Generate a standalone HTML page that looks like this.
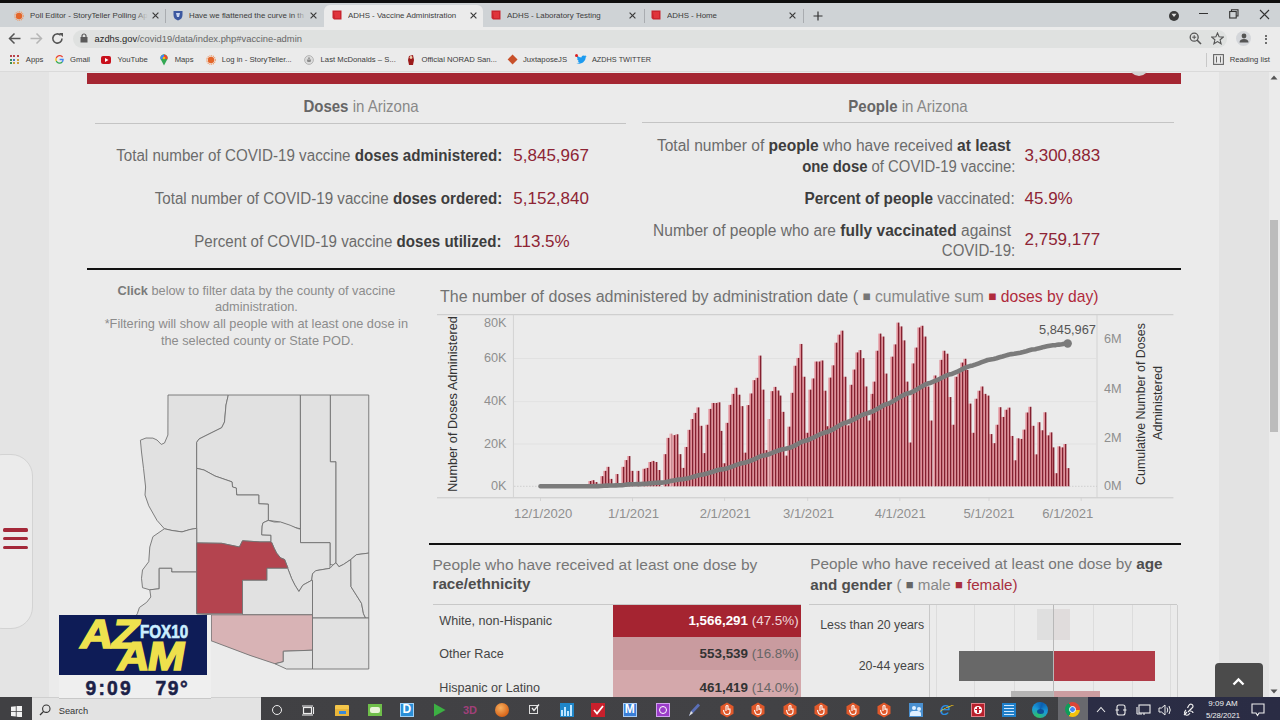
<!DOCTYPE html>
<html><head><meta charset="utf-8"><title>ADHS - Vaccine Administration</title><style>
*{margin:0;padding:0;box-sizing:border-box}
html,body{width:1280px;height:720px;overflow:hidden;background:#ebebeb;font-family:"Liberation Sans",sans-serif}
.a{position:absolute}
.t{position:absolute;white-space:nowrap;font-family:"Liberation Sans",sans-serif}
.r{text-align:right}
.c{text-align:center}
b{font-weight:bold}
</style></head>
<body>
<div class="a" style="left:0;top:72px;width:49px;height:626px;background:#e4e4e4"></div><div class="a" style="left:1219px;top:72px;width:50px;height:626px;background:#e3e3e3"></div><div class="a" style="left:1269px;top:72px;width:11px;height:626px;background:#ebebeb"></div><div class="a" style="left:1270px;top:220px;width:8.3px;height:212px;background:#bcbcbc"></div><svg class="a" style="left:1270px;top:75px" width="8" height="5"><path d="M0.5 4.5 L4 0.5 L7.5 4.5Z" fill="#555"/></svg><svg class="a" style="left:1270px;top:689px" width="8" height="5"><path d="M0.5 0.5 L4 4.5 L7.5 0.5Z" fill="#555"/></svg><div class="a" style="left:87px;top:72.5px;width:1094.3px;height:11.3px;background:#a52632"></div><div class="a" style="left:1128.5px;top:56px;width:20px;height:20px;border-radius:50%;background:#d4d4d4"></div><div class="a" style="left:-20px;top:453.5px;width:53px;height:175.5px;border:1.5px solid #d3d3d3;border-radius:22px;background:#ebebeb"></div><div class="a" style="left:3.3px;top:527.8000000000001px;width:24.5px;height:3.8px;border-radius:1.5px;background:#a42839"></div><div class="a" style="left:3.3px;top:536.7px;width:24.5px;height:3.8px;border-radius:1.5px;background:#a42839"></div><div class="a" style="left:3.3px;top:545.6px;width:24.5px;height:3.8px;border-radius:1.5px;background:#a42839"></div><div class="t" style="left:211.0px;width:300px;text-align:center;top:96.3px;font-size:16.5px;line-height:20px;color:#888;transform:scaleX(0.91);transform-origin:50% 50%;"><b style="color:#666">Doses</b> in Arizona</div><div class="t" style="left:758.0px;width:300px;text-align:center;top:96.0px;font-size:16.5px;line-height:20px;color:#888;transform:scaleX(0.91);transform-origin:50% 50%;"><b style="color:#666">People</b> in Arizona</div><div class="a" style="left:95.4px;top:122.5px;width:531px;height:1px;background:#c4c4c4"></div><div class="a" style="left:642px;top:121.6px;width:531.7px;height:1px;background:#c4c4c4"></div><div class="t" style="right:778.2px;text-align:right;top:145.7px;font-size:16px;line-height:19px;color:#6b6b6b;transform:scaleX(0.948);transform-origin:100% 50%;">Total number of COVID-19 vaccine <b style="color:#3d3d3d">doses administered:</b></div><div class="t" style="right:778.2px;text-align:right;top:189.2px;font-size:16px;line-height:19px;color:#6b6b6b;transform:scaleX(0.9463);transform-origin:100% 50%;">Total number of COVID-19 vaccine <b style="color:#3d3d3d">doses ordered:</b></div><div class="t" style="right:778.2px;text-align:right;top:231.8px;font-size:16px;line-height:19px;color:#6b6b6b;transform:scaleX(0.9438);transform-origin:100% 50%;">Percent of COVID-19 vaccine <b style="color:#3d3d3d">doses utilized:</b></div><div class="t" style="left:513.3px;top:145.8px;font-size:17px;line-height:20px;color:#8e2434;">5,845,967</div><div class="t" style="left:513.3px;top:189.3px;font-size:17px;line-height:20px;color:#8e2434;">5,152,840</div><div class="t" style="left:513.3px;top:231.9px;font-size:17px;line-height:20px;color:#8e2434;">113.5%</div><div class="t" style="right:268.79999999999995px;text-align:right;top:136.1px;font-size:16px;line-height:19px;color:#6b6b6b;transform:scaleX(0.9727);transform-origin:100% 50%;">Total number of <b style="color:#3d3d3d">people</b> who have received <b style="color:#3d3d3d">at least</b></div><div class="t" style="right:265px;text-align:right;top:157.3px;font-size:16px;line-height:19px;color:#6b6b6b;transform:scaleX(0.9295);transform-origin:100% 50%;"><b style="color:#3d3d3d">one dose</b> of COVID-19 vaccine:</div><div class="t" style="right:265px;text-align:right;top:188.9px;font-size:16px;line-height:19px;color:#6b6b6b;transform:scaleX(0.9567);transform-origin:100% 50%;"><b style="color:#3d3d3d">Percent of people</b> vaccinated:</div><div class="t" style="right:268.79999999999995px;text-align:right;top:220.5px;font-size:16px;line-height:19px;color:#6b6b6b;transform:scaleX(0.97);transform-origin:100% 50%;">Number of people who are <b style="color:#3d3d3d">fully vaccinated</b> against</div><div class="t" style="right:265px;text-align:right;top:240.8px;font-size:16px;line-height:19px;color:#6b6b6b;transform:scaleX(0.9387);transform-origin:100% 50%;">COVID-19:</div><div class="t" style="left:1024.5px;top:145.8px;font-size:17px;line-height:20px;color:#8e2434;">3,300,883</div><div class="t" style="left:1024.5px;top:188.9px;font-size:17px;line-height:20px;color:#8e2434;">45.9%</div><div class="t" style="left:1024.5px;top:230.3px;font-size:17px;line-height:20px;color:#8e2434;">2,759,177</div><div class="a" style="left:87px;top:268px;width:1094px;height:2px;background:#111"></div><div class="a" style="left:429px;top:542.5px;width:752px;height:2px;background:#111"></div><div class="t" style="left:-43.60000000000002px;width:600px;text-align:center;top:282.9px;font-size:12.75px;line-height:15px;color:#8c8c8c;"><b style="color:#7a7a7a">Click</b> below to filter data by the county of vaccine</div><div class="t" style="left:-43.60000000000002px;width:600px;text-align:center;top:299.4px;font-size:12.75px;line-height:15px;color:#8c8c8c;">administration.</div><div class="t" style="left:-43.69999999999999px;width:600px;text-align:center;top:316.4px;font-size:12.75px;line-height:15px;color:#8c8c8c;">*Filtering will show all people with at least one dose in</div><div class="t" style="left:-42.69999999999999px;width:600px;text-align:center;top:333.1px;font-size:12.75px;line-height:15px;color:#8c8c8c;">the selected county or State POD.</div>
<svg class="a" style="left:0;top:0" width="1280" height="720" viewBox="0 0 1280 720"><path d="M168,395 L228.3,395 L226,405 L224.5,422 L221.7,427.7 L209,434 L199,439 L196.7,442.3 L196.7,468.3 L196.7,528.3 L190,529.5 L182,531.9 L172,530.5 L164.4,528.75 L157,520.4 L148.75,505.8 L145,495 L145.6,487 L143.5,468.3 L141.5,452 L140.4,440.2 L146,438 L152.9,438.1 L157,440 L161.25,444.4 L164.5,443 L167.9,435Z" fill="#e1e1e1" stroke="#727272" stroke-width="0.9" stroke-linejoin="round"/><path d="M228.3,395 L300.4,395 L300.4,528.75 L291.7,526.7 L281.25,522.5 L277,521.5 L268.3,520.4 L268.3,504.2 L258.75,503.75 L258.75,495 L236.7,495 L236.3,488 L232.5,487 L232,481.9 L215,476 L204,470 L196.7,468.3 L196.7,442.3 L199,439 L209,434 L221.7,427.7 L224.5,422 L226,405Z" fill="#e1e1e1" stroke="#727272" stroke-width="0.9" stroke-linejoin="round"/><path d="M300.4,395 L330.4,395 L330.4,461.7 L336,461.7 L336,562.7 L333,565 L330,564.5 L330,542.7 L300.5,542.7 L300.5,529.2Z" fill="#e1e1e1" stroke="#727272" stroke-width="0.9" stroke-linejoin="round"/><path d="M330.4,395 L368.75,395 L368.75,553.1 L356.4,554.7 L350.8,559.5 L343.7,564.3 L338.9,566.7 L336,562.7 L336,461.7 L330.4,461.7Z" fill="#e1e1e1" stroke="#727272" stroke-width="0.9" stroke-linejoin="round"/><path d="M196.7,468.3 L204,470 L215,476 L232,481.9 L232.5,487 L236.3,488 L236.7,495 L258.75,495 L258.75,503.75 L268.3,504.2 L268.3,520.4 L263,522.8 L262.2,526 L261.7,534.8 L271,535.2 L271,541.9 L260,541.9 L242.5,540.8 L239.4,547 L221.7,543.3 L196.7,542.9Z" fill="#e1e1e1" stroke="#727272" stroke-width="0.9" stroke-linejoin="round"/><path d="M268.3,520.4 L274.2,522 L280.6,522 L290.1,525.2 L297.3,528.4 L300.5,529.2 L300.5,542.7 L330,542.7 L330,568.3 L315.7,570.7 L312.5,573.9 L311.7,580.3 L302.9,585.1 L298.9,591.5 L294.9,585.1 L291.7,578.7 L287.7,568.3 L287.7,567.5 L284.6,559.5 L280.6,557.9 L276.6,553.1 L274.2,548.3 L271.8,542.7 L271,541.9 L271,535.2 L261.7,534.8 L262.2,526 L263,522.8Z" fill="#e1e1e1" stroke="#727272" stroke-width="0.9" stroke-linejoin="round"/><path d="M164.4,528.75 L172,530.5 L182,531.9 L190,529.5 L196.7,528.3 L196.7,572 L171.7,572 L171.7,568.3 L159.2,568.3 L159.2,588.75 L149.8,589.8 L142.5,587.7 L141.5,578.3 L142.5,570 L148.75,561.7 L149.8,547 L152.9,536.7Z" fill="#e1e1e1" stroke="#727272" stroke-width="0.9" stroke-linejoin="round"/><path d="M159.2,568.3 L171.7,568.3 L171.7,572 L196.7,572 L196.7,613.75 L211.25,614.8 L211.25,640.8 L150,625 L130,625 L137.3,613.75 L139.4,607.5 L146.7,602.3 L150.8,597 L149.8,589.8 L159.2,588.75Z" fill="#e1e1e1" stroke="#727272" stroke-width="0.9" stroke-linejoin="round"/><path d="M196.7,542.9 L221.7,543.3 L239.4,547 L242.5,540.8 L260,541.9 L271,541.9 L271.8,542.7 L274.2,548.3 L276.6,553.1 L280.6,557.9 L284.6,559.5 L287.7,567.5 L287.7,568.3 L267,568.3 L267,580.3 L242.5,580.3 L242.5,613.75 L196.7,613.75Z" fill="#b4444f" stroke="#727272" stroke-width="0.9" stroke-linejoin="round"/><path d="M242.5,580.3 L267,580.3 L267,568.3 L287.7,568.3 L291.7,578.7 L294.9,585.1 L298.9,591.5 L302.9,585.1 L311.7,580.3 L312.5,580.3 L312.5,614.8 L242.5,614.8Z" fill="#e1e1e1" stroke="#727272" stroke-width="0.9" stroke-linejoin="round"/><path d="M312.5,580.3 L311.7,580.3 L312.5,573.9 L315.7,570.7 L330,568.3 L333,565 L336,562.7 L338.9,566.7 L343.7,564.3 L350.8,559.5 L351,586.7 L361.5,603.3 L363.5,613.75 L365.6,618 L312.5,618Z" fill="#e1e1e1" stroke="#727272" stroke-width="0.9" stroke-linejoin="round"/><path d="M350.8,559.5 L356.4,554.7 L368.75,553.1 L368.75,618 L365.6,618 L363.5,613.75 L361.5,603.3 L351,586.7Z" fill="#e1e1e1" stroke="#727272" stroke-width="0.9" stroke-linejoin="round"/><path d="M312.5,618 L368.75,618 L368.75,669 L312.5,669Z" fill="#e1e1e1" stroke="#727272" stroke-width="0.9" stroke-linejoin="round"/><path d="M211.25,614.8 L242.5,614.8 L312.5,614.8 L312.5,650.2 L283.3,651.25 L283.3,661.7 L275,663.75 L250,655.4 L211.25,640.8Z" fill="#d8b3b5" stroke="#727272" stroke-width="0.9" stroke-linejoin="round"/><path d="M283.3,651.25 L312.5,650.2 L312.5,669 L286.5,669 L275,663.75 L283.3,661.7Z" fill="#e1e1e1" stroke="#727272" stroke-width="0.9" stroke-linejoin="round"/></svg>
<div class="t" style="left:440px;top:286.5px;font-size:16px;line-height:19px;color:#727272;">The number of doses administered by administration date ( <span style="color:#777;font-size:13.5px;vertical-align:1px">&#9632;</span><span style="color:#888;font-size:15.7px"> cumulative sum </span><span style="color:#b02a3c;font-size:13.5px;vertical-align:1px">&#9632;</span><span style="color:#b02a3c;font-size:15.7px"> doses by day)</span></div><svg class="a" style="left:0;top:0" width="1280" height="720" viewBox="0 0 1280 720"><path d="M437 314.7 H1173.4 M437 497.8 H1173.4" stroke="#c9c9c9" stroke-width="1"/><path d="M513.4 314.7 V497.8 M1097 314.7 V497.8" stroke="#d3d3d3" stroke-width="1"/><path d="M514 358.5 H1097" stroke="#dedede" stroke-width="0.8"/><path d="M514 401.6 H1097" stroke="#dedede" stroke-width="0.8"/><path d="M514 444.0 H1097" stroke="#dedede" stroke-width="0.8"/><path d="M514 486.3 H1097" stroke="#c8c8c8" stroke-width="0.8" stroke-dasharray="1.5 1.5"/><path d="M540.5 497.8 V501" stroke="#cfcfcf" stroke-width="0.8"/><path d="M632.5 497.8 V501" stroke="#cfcfcf" stroke-width="0.8"/><path d="M724.6 497.8 V501" stroke="#cfcfcf" stroke-width="0.8"/><path d="M807.7 497.8 V501" stroke="#cfcfcf" stroke-width="0.8"/><path d="M899.8 497.8 V501" stroke="#cfcfcf" stroke-width="0.8"/><path d="M989 497.8 V501" stroke="#cfcfcf" stroke-width="0.8"/><path d="M1081.2 497.8 V501" stroke="#cfcfcf" stroke-width="0.8"/><rect x="588.40" y="481.01" width="1.7" height="5.29" fill="#e28f98"/><rect x="591.40" y="480.17" width="1.7" height="6.13" fill="#e28f98"/><rect x="594.40" y="482.07" width="1.7" height="4.23" fill="#e28f98"/><rect x="600.40" y="476.15" width="1.7" height="10.15" fill="#e28f98"/><rect x="603.40" y="470.86" width="1.7" height="15.44" fill="#e28f98"/><rect x="606.40" y="466.84" width="1.7" height="19.46" fill="#e28f98"/><rect x="609.40" y="478.90" width="1.7" height="7.40" fill="#e28f98"/><rect x="615.40" y="474.03" width="1.7" height="12.27" fill="#e28f98"/><rect x="618.40" y="483.13" width="1.7" height="3.17" fill="#e28f98"/><rect x="621.40" y="466.84" width="1.7" height="19.46" fill="#e28f98"/><rect x="624.40" y="460.07" width="1.7" height="26.23" fill="#e28f98"/><rect x="627.40" y="456.06" width="1.7" height="30.24" fill="#e28f98"/><rect x="630.40" y="470.86" width="1.7" height="15.44" fill="#e28f98"/><rect x="636.40" y="470.86" width="1.7" height="15.44" fill="#e28f98"/><rect x="642.40" y="468.75" width="1.7" height="17.55" fill="#e28f98"/><rect x="645.40" y="467.90" width="1.7" height="18.40" fill="#e28f98"/><rect x="648.40" y="461.98" width="1.7" height="24.32" fill="#e28f98"/><rect x="651.40" y="460.92" width="1.7" height="25.38" fill="#e28f98"/><rect x="654.40" y="461.98" width="1.7" height="24.32" fill="#e28f98"/><rect x="657.40" y="470.01" width="1.7" height="16.29" fill="#e28f98"/><rect x="663.40" y="454.15" width="1.7" height="32.15" fill="#e28f98"/><rect x="666.40" y="437.87" width="1.7" height="48.43" fill="#e28f98"/><rect x="669.40" y="433.64" width="1.7" height="52.66" fill="#f0b8bd"/><rect x="672.40" y="435.12" width="1.7" height="51.18" fill="#e28f98"/><rect x="675.40" y="434.27" width="1.7" height="52.03" fill="#e28f98"/><rect x="678.40" y="454.15" width="1.7" height="32.15" fill="#e28f98"/><rect x="681.40" y="467.90" width="1.7" height="18.40" fill="#e28f98"/><rect x="684.40" y="446.96" width="1.7" height="39.34" fill="#e28f98"/><rect x="687.40" y="429.83" width="1.7" height="56.47" fill="#e28f98"/><rect x="690.40" y="419.04" width="1.7" height="67.26" fill="#e28f98"/><rect x="693.40" y="412.91" width="1.7" height="73.39" fill="#e28f98"/><rect x="696.40" y="407.41" width="1.7" height="78.89" fill="#e28f98"/><rect x="699.40" y="425.81" width="1.7" height="60.49" fill="#e28f98"/><rect x="702.40" y="453.09" width="1.7" height="33.21" fill="#e28f98"/><rect x="705.40" y="424.75" width="1.7" height="61.55" fill="#e28f98"/><rect x="708.40" y="408.89" width="1.7" height="77.41" fill="#e28f98"/><rect x="711.40" y="402.97" width="1.7" height="83.33" fill="#e28f98"/><rect x="714.40" y="402.97" width="1.7" height="83.33" fill="#e28f98"/><rect x="717.40" y="402.33" width="1.7" height="83.97" fill="#e28f98"/><rect x="719.40" y="430.89" width="1.7" height="55.41" fill="#e28f98"/><rect x="722.40" y="463.25" width="1.7" height="23.05" fill="#e28f98"/><rect x="725.40" y="422.85" width="1.7" height="63.45" fill="#e28f98"/><rect x="728.40" y="404.87" width="1.7" height="81.43" fill="#e28f98"/><rect x="731.40" y="393.87" width="1.7" height="92.43" fill="#e28f98"/><rect x="734.40" y="387.74" width="1.7" height="98.56" fill="#e28f98"/><rect x="737.40" y="394.72" width="1.7" height="91.58" fill="#e28f98"/><rect x="740.40" y="406.14" width="1.7" height="80.16" fill="#e28f98"/><rect x="743.40" y="452.67" width="1.7" height="33.63" fill="#e28f98"/><rect x="746.40" y="405.08" width="1.7" height="81.22" fill="#e28f98"/><rect x="749.40" y="393.45" width="1.7" height="92.85" fill="#e28f98"/><rect x="752.40" y="380.13" width="1.7" height="106.17" fill="#e28f98"/><rect x="755.40" y="377.80" width="1.7" height="108.50" fill="#e28f98"/><rect x="758.40" y="355.59" width="1.7" height="130.71" fill="#e28f98"/><rect x="761.40" y="389.64" width="1.7" height="96.66" fill="#e28f98"/><rect x="764.40" y="450.13" width="1.7" height="36.17" fill="#e28f98"/><rect x="767.40" y="419.04" width="1.7" height="67.26" fill="#f0b8bd"/><rect x="770.40" y="391.12" width="1.7" height="95.18" fill="#e28f98"/><rect x="773.40" y="386.89" width="1.7" height="99.41" fill="#e28f98"/><rect x="776.40" y="390.49" width="1.7" height="95.81" fill="#e28f98"/><rect x="778.40" y="395.57" width="1.7" height="90.73" fill="#e28f98"/><rect x="781.40" y="411.85" width="1.7" height="74.45" fill="#e28f98"/><rect x="784.40" y="455.63" width="1.7" height="30.67" fill="#e28f98"/><rect x="787.40" y="426.66" width="1.7" height="59.64" fill="#e28f98"/><rect x="790.40" y="392.82" width="1.7" height="93.48" fill="#e28f98"/><rect x="793.40" y="365.75" width="1.7" height="120.56" fill="#e28f98"/><rect x="796.40" y="357.92" width="1.7" height="128.38" fill="#e28f98"/><rect x="799.40" y="343.96" width="1.7" height="142.34" fill="#e28f98"/><rect x="802.40" y="376.74" width="1.7" height="109.56" fill="#e28f98"/><rect x="805.40" y="432.79" width="1.7" height="53.51" fill="#e28f98"/><rect x="808.40" y="389.64" width="1.7" height="96.66" fill="#e28f98"/><rect x="811.40" y="378.44" width="1.7" height="107.87" fill="#e28f98"/><rect x="814.40" y="361.51" width="1.7" height="124.79" fill="#e28f98"/><rect x="817.40" y="361.51" width="1.7" height="124.79" fill="#e28f98"/><rect x="820.40" y="360.46" width="1.7" height="125.84" fill="#e28f98"/><rect x="823.40" y="390.70" width="1.7" height="95.60" fill="#e28f98"/><rect x="825.40" y="426.23" width="1.7" height="60.07" fill="#e28f98"/><rect x="828.40" y="377.59" width="1.7" height="108.71" fill="#e28f98"/><rect x="831.40" y="365.32" width="1.7" height="120.98" fill="#e28f98"/><rect x="834.40" y="342.69" width="1.7" height="143.61" fill="#e28f98"/><rect x="837.40" y="334.65" width="1.7" height="151.65" fill="#e28f98"/><rect x="840.40" y="330.64" width="1.7" height="155.66" fill="#e28f98"/><rect x="843.40" y="376.74" width="1.7" height="109.56" fill="#e28f98"/><rect x="846.40" y="425.39" width="1.7" height="60.91" fill="#e28f98"/><rect x="849.40" y="384.78" width="1.7" height="101.52" fill="#e28f98"/><rect x="852.40" y="369.55" width="1.7" height="116.75" fill="#e28f98"/><rect x="855.40" y="352.42" width="1.7" height="133.88" fill="#e28f98"/><rect x="858.40" y="350.09" width="1.7" height="136.21" fill="#e28f98"/><rect x="861.40" y="358.13" width="1.7" height="128.17" fill="#e28f98"/><rect x="864.40" y="386.47" width="1.7" height="99.83" fill="#e28f98"/><rect x="867.40" y="420.52" width="1.7" height="65.78" fill="#e28f98"/><rect x="870.40" y="393.87" width="1.7" height="92.43" fill="#e28f98"/><rect x="872.40" y="381.61" width="1.7" height="104.69" fill="#e28f98"/><rect x="875.40" y="350.73" width="1.7" height="135.57" fill="#e28f98"/><rect x="878.40" y="333.60" width="1.7" height="152.70" fill="#e28f98"/><rect x="881.40" y="336.56" width="1.7" height="149.74" fill="#e28f98"/><rect x="884.40" y="373.57" width="1.7" height="112.73" fill="#e28f98"/><rect x="887.40" y="404.87" width="1.7" height="81.43" fill="#e28f98"/><rect x="890.40" y="356.65" width="1.7" height="129.65" fill="#e28f98"/><rect x="893.40" y="344.38" width="1.7" height="141.92" fill="#e28f98"/><rect x="896.40" y="322.60" width="1.7" height="163.70" fill="#e28f98"/><rect x="899.40" y="326.41" width="1.7" height="159.89" fill="#e28f98"/><rect x="902.40" y="340.37" width="1.7" height="145.94" fill="#e28f98"/><rect x="905.40" y="381.61" width="1.7" height="104.69" fill="#e28f98"/><rect x="908.40" y="442.52" width="1.7" height="43.78" fill="#e28f98"/><rect x="911.40" y="363.42" width="1.7" height="122.88" fill="#e28f98"/><rect x="914.40" y="347.56" width="1.7" height="138.74" fill="#e28f98"/><rect x="917.40" y="327.46" width="1.7" height="158.84" fill="#e28f98"/><rect x="920.40" y="325.77" width="1.7" height="160.53" fill="#e28f98"/><rect x="923.40" y="336.56" width="1.7" height="149.74" fill="#e28f98"/><rect x="926.40" y="386.47" width="1.7" height="99.83" fill="#e28f98"/><rect x="929.40" y="420.52" width="1.7" height="65.78" fill="#e28f98"/><rect x="933.40" y="375.47" width="1.7" height="110.83" fill="#e28f98"/><rect x="936.40" y="380.97" width="1.7" height="105.33" fill="#e28f98"/><rect x="939.40" y="359.82" width="1.7" height="126.48" fill="#e28f98"/><rect x="942.40" y="350.73" width="1.7" height="135.57" fill="#e28f98"/><rect x="945.40" y="353.69" width="1.7" height="132.61" fill="#e28f98"/><rect x="948.40" y="397.05" width="1.7" height="89.25" fill="#e28f98"/><rect x="951.40" y="424.75" width="1.7" height="61.55" fill="#e28f98"/><rect x="954.40" y="376.74" width="1.7" height="109.56" fill="#e28f98"/><rect x="957.40" y="373.15" width="1.7" height="113.15" fill="#e28f98"/><rect x="960.40" y="362.57" width="1.7" height="123.73" fill="#e28f98"/><rect x="963.40" y="358.77" width="1.7" height="127.53" fill="#e28f98"/><rect x="965.40" y="369.98" width="1.7" height="116.32" fill="#e28f98"/><rect x="968.40" y="403.60" width="1.7" height="82.70" fill="#e28f98"/><rect x="971.40" y="432.79" width="1.7" height="53.51" fill="#e28f98"/><rect x="974.40" y="398.74" width="1.7" height="87.56" fill="#e28f98"/><rect x="977.40" y="390.70" width="1.7" height="95.60" fill="#e28f98"/><rect x="980.40" y="386.47" width="1.7" height="99.83" fill="#e28f98"/><rect x="983.40" y="393.87" width="1.7" height="92.43" fill="#e28f98"/><rect x="986.40" y="395.57" width="1.7" height="90.73" fill="#e28f98"/><rect x="989.40" y="434.06" width="1.7" height="52.24" fill="#e28f98"/><rect x="992.40" y="443.15" width="1.7" height="43.15" fill="#e28f98"/><rect x="995.40" y="424.75" width="1.7" height="61.55" fill="#e28f98"/><rect x="998.40" y="407.20" width="1.7" height="79.10" fill="#e28f98"/><rect x="1001.40" y="416.93" width="1.7" height="69.37" fill="#e28f98"/><rect x="1004.40" y="409.74" width="1.7" height="76.56" fill="#e28f98"/><rect x="1007.40" y="407.62" width="1.7" height="78.68" fill="#e28f98"/><rect x="1010.40" y="435.96" width="1.7" height="50.34" fill="#e28f98"/><rect x="1013.40" y="460.29" width="1.7" height="26.01" fill="#e28f98"/><rect x="1016.40" y="438.29" width="1.7" height="48.01" fill="#e28f98"/><rect x="1019.40" y="438.92" width="1.7" height="47.38" fill="#e28f98"/><rect x="1022.40" y="429.62" width="1.7" height="56.68" fill="#e28f98"/><rect x="1025.40" y="412.49" width="1.7" height="73.81" fill="#e28f98"/><rect x="1028.40" y="406.78" width="1.7" height="79.52" fill="#e28f98"/><rect x="1031.40" y="425.81" width="1.7" height="60.49" fill="#e28f98"/><rect x="1034.40" y="454.36" width="1.7" height="31.94" fill="#e28f98"/><rect x="1037.40" y="422.22" width="1.7" height="64.08" fill="#e28f98"/><rect x="1040.40" y="430.25" width="1.7" height="56.05" fill="#e28f98"/><rect x="1043.40" y="412.27" width="1.7" height="74.03" fill="#e28f98"/><rect x="1046.40" y="435.33" width="1.7" height="50.97" fill="#e28f98"/><rect x="1049.40" y="432.37" width="1.7" height="53.93" fill="#e28f98"/><rect x="1051.40" y="447.38" width="1.7" height="38.92" fill="#e28f98"/><rect x="1054.40" y="473.19" width="1.7" height="13.11" fill="#e28f98"/><rect x="1057.40" y="446.33" width="1.7" height="39.97" fill="#e28f98"/><rect x="1060.40" y="447.38" width="1.7" height="38.92" fill="#e28f98"/><rect x="1063.40" y="444.00" width="1.7" height="42.30" fill="#e28f98"/><rect x="1066.40" y="468.11" width="1.7" height="18.19" fill="#e28f98"/><rect x="590.00" y="481.01" width="1.4" height="5.29" fill="#84202f"/><rect x="593.00" y="480.17" width="1.4" height="6.13" fill="#84202f"/><rect x="596.00" y="482.07" width="1.4" height="4.23" fill="#84202f"/><rect x="602.00" y="476.15" width="1.4" height="10.15" fill="#84202f"/><rect x="605.00" y="470.86" width="1.4" height="15.44" fill="#84202f"/><rect x="608.00" y="466.84" width="1.4" height="19.46" fill="#84202f"/><rect x="611.00" y="478.90" width="1.4" height="7.40" fill="#84202f"/><rect x="617.00" y="474.03" width="1.4" height="12.27" fill="#84202f"/><rect x="620.00" y="483.13" width="1.4" height="3.17" fill="#84202f"/><rect x="623.00" y="466.84" width="1.4" height="19.46" fill="#84202f"/><rect x="626.00" y="460.07" width="1.4" height="26.23" fill="#84202f"/><rect x="629.00" y="456.06" width="1.4" height="30.24" fill="#84202f"/><rect x="632.00" y="470.86" width="1.4" height="15.44" fill="#84202f"/><rect x="638.00" y="470.86" width="1.4" height="15.44" fill="#84202f"/><rect x="644.00" y="468.75" width="1.4" height="17.55" fill="#84202f"/><rect x="647.00" y="467.90" width="1.4" height="18.40" fill="#84202f"/><rect x="650.00" y="461.98" width="1.4" height="24.32" fill="#84202f"/><rect x="653.00" y="460.92" width="1.4" height="25.38" fill="#84202f"/><rect x="656.00" y="461.98" width="1.4" height="24.32" fill="#84202f"/><rect x="659.00" y="470.01" width="1.4" height="16.29" fill="#84202f"/><rect x="665.00" y="454.15" width="1.4" height="32.15" fill="#84202f"/><rect x="668.00" y="437.87" width="1.4" height="48.43" fill="#84202f"/><rect x="671.00" y="433.64" width="1.4" height="52.66" fill="#c98b92"/><rect x="674.00" y="435.12" width="1.4" height="51.18" fill="#84202f"/><rect x="677.00" y="434.27" width="1.4" height="52.03" fill="#84202f"/><rect x="680.00" y="454.15" width="1.4" height="32.15" fill="#84202f"/><rect x="683.00" y="467.90" width="1.4" height="18.40" fill="#84202f"/><rect x="686.00" y="446.96" width="1.4" height="39.34" fill="#84202f"/><rect x="689.00" y="429.83" width="1.4" height="56.47" fill="#84202f"/><rect x="692.00" y="419.04" width="1.4" height="67.26" fill="#84202f"/><rect x="695.00" y="412.91" width="1.4" height="73.39" fill="#84202f"/><rect x="698.00" y="407.41" width="1.4" height="78.89" fill="#84202f"/><rect x="701.00" y="425.81" width="1.4" height="60.49" fill="#84202f"/><rect x="704.00" y="453.09" width="1.4" height="33.21" fill="#84202f"/><rect x="707.00" y="424.75" width="1.4" height="61.55" fill="#84202f"/><rect x="710.00" y="408.89" width="1.4" height="77.41" fill="#84202f"/><rect x="713.00" y="402.97" width="1.4" height="83.33" fill="#84202f"/><rect x="716.00" y="402.97" width="1.4" height="83.33" fill="#84202f"/><rect x="719.00" y="402.33" width="1.4" height="83.97" fill="#84202f"/><rect x="721.00" y="430.89" width="1.4" height="55.41" fill="#84202f"/><rect x="724.00" y="463.25" width="1.4" height="23.05" fill="#84202f"/><rect x="727.00" y="422.85" width="1.4" height="63.45" fill="#84202f"/><rect x="730.00" y="404.87" width="1.4" height="81.43" fill="#84202f"/><rect x="733.00" y="393.87" width="1.4" height="92.43" fill="#84202f"/><rect x="736.00" y="387.74" width="1.4" height="98.56" fill="#84202f"/><rect x="739.00" y="394.72" width="1.4" height="91.58" fill="#84202f"/><rect x="742.00" y="406.14" width="1.4" height="80.16" fill="#84202f"/><rect x="745.00" y="452.67" width="1.4" height="33.63" fill="#84202f"/><rect x="748.00" y="405.08" width="1.4" height="81.22" fill="#84202f"/><rect x="751.00" y="393.45" width="1.4" height="92.85" fill="#84202f"/><rect x="754.00" y="380.13" width="1.4" height="106.17" fill="#84202f"/><rect x="757.00" y="377.80" width="1.4" height="108.50" fill="#84202f"/><rect x="760.00" y="355.59" width="1.4" height="130.71" fill="#84202f"/><rect x="763.00" y="389.64" width="1.4" height="96.66" fill="#84202f"/><rect x="766.00" y="450.13" width="1.4" height="36.17" fill="#84202f"/><rect x="769.00" y="419.04" width="1.4" height="67.26" fill="#c98b92"/><rect x="772.00" y="391.12" width="1.4" height="95.18" fill="#84202f"/><rect x="775.00" y="386.89" width="1.4" height="99.41" fill="#84202f"/><rect x="778.00" y="390.49" width="1.4" height="95.81" fill="#84202f"/><rect x="780.00" y="395.57" width="1.4" height="90.73" fill="#84202f"/><rect x="783.00" y="411.85" width="1.4" height="74.45" fill="#84202f"/><rect x="786.00" y="455.63" width="1.4" height="30.67" fill="#84202f"/><rect x="789.00" y="426.66" width="1.4" height="59.64" fill="#84202f"/><rect x="792.00" y="392.82" width="1.4" height="93.48" fill="#84202f"/><rect x="795.00" y="365.75" width="1.4" height="120.56" fill="#84202f"/><rect x="798.00" y="357.92" width="1.4" height="128.38" fill="#84202f"/><rect x="801.00" y="343.96" width="1.4" height="142.34" fill="#84202f"/><rect x="804.00" y="376.74" width="1.4" height="109.56" fill="#84202f"/><rect x="807.00" y="432.79" width="1.4" height="53.51" fill="#84202f"/><rect x="810.00" y="389.64" width="1.4" height="96.66" fill="#84202f"/><rect x="813.00" y="378.44" width="1.4" height="107.87" fill="#84202f"/><rect x="816.00" y="361.51" width="1.4" height="124.79" fill="#84202f"/><rect x="819.00" y="361.51" width="1.4" height="124.79" fill="#84202f"/><rect x="822.00" y="360.46" width="1.4" height="125.84" fill="#84202f"/><rect x="825.00" y="390.70" width="1.4" height="95.60" fill="#84202f"/><rect x="827.00" y="426.23" width="1.4" height="60.07" fill="#84202f"/><rect x="830.00" y="377.59" width="1.4" height="108.71" fill="#84202f"/><rect x="833.00" y="365.32" width="1.4" height="120.98" fill="#84202f"/><rect x="836.00" y="342.69" width="1.4" height="143.61" fill="#84202f"/><rect x="839.00" y="334.65" width="1.4" height="151.65" fill="#84202f"/><rect x="842.00" y="330.64" width="1.4" height="155.66" fill="#84202f"/><rect x="845.00" y="376.74" width="1.4" height="109.56" fill="#84202f"/><rect x="848.00" y="425.39" width="1.4" height="60.91" fill="#84202f"/><rect x="851.00" y="384.78" width="1.4" height="101.52" fill="#84202f"/><rect x="854.00" y="369.55" width="1.4" height="116.75" fill="#84202f"/><rect x="857.00" y="352.42" width="1.4" height="133.88" fill="#84202f"/><rect x="860.00" y="350.09" width="1.4" height="136.21" fill="#84202f"/><rect x="863.00" y="358.13" width="1.4" height="128.17" fill="#84202f"/><rect x="866.00" y="386.47" width="1.4" height="99.83" fill="#84202f"/><rect x="869.00" y="420.52" width="1.4" height="65.78" fill="#84202f"/><rect x="872.00" y="393.87" width="1.4" height="92.43" fill="#84202f"/><rect x="874.00" y="381.61" width="1.4" height="104.69" fill="#84202f"/><rect x="877.00" y="350.73" width="1.4" height="135.57" fill="#84202f"/><rect x="880.00" y="333.60" width="1.4" height="152.70" fill="#84202f"/><rect x="883.00" y="336.56" width="1.4" height="149.74" fill="#84202f"/><rect x="886.00" y="373.57" width="1.4" height="112.73" fill="#84202f"/><rect x="889.00" y="404.87" width="1.4" height="81.43" fill="#84202f"/><rect x="892.00" y="356.65" width="1.4" height="129.65" fill="#84202f"/><rect x="895.00" y="344.38" width="1.4" height="141.92" fill="#84202f"/><rect x="898.00" y="322.60" width="1.4" height="163.70" fill="#84202f"/><rect x="901.00" y="326.41" width="1.4" height="159.89" fill="#84202f"/><rect x="904.00" y="340.37" width="1.4" height="145.94" fill="#84202f"/><rect x="907.00" y="381.61" width="1.4" height="104.69" fill="#84202f"/><rect x="910.00" y="442.52" width="1.4" height="43.78" fill="#84202f"/><rect x="913.00" y="363.42" width="1.4" height="122.88" fill="#84202f"/><rect x="916.00" y="347.56" width="1.4" height="138.74" fill="#84202f"/><rect x="919.00" y="327.46" width="1.4" height="158.84" fill="#84202f"/><rect x="922.00" y="325.77" width="1.4" height="160.53" fill="#84202f"/><rect x="925.00" y="336.56" width="1.4" height="149.74" fill="#84202f"/><rect x="928.00" y="386.47" width="1.4" height="99.83" fill="#84202f"/><rect x="931.00" y="420.52" width="1.4" height="65.78" fill="#84202f"/><rect x="935.00" y="375.47" width="1.4" height="110.83" fill="#84202f"/><rect x="938.00" y="380.97" width="1.4" height="105.33" fill="#84202f"/><rect x="941.00" y="359.82" width="1.4" height="126.48" fill="#84202f"/><rect x="944.00" y="350.73" width="1.4" height="135.57" fill="#84202f"/><rect x="947.00" y="353.69" width="1.4" height="132.61" fill="#84202f"/><rect x="950.00" y="397.05" width="1.4" height="89.25" fill="#84202f"/><rect x="953.00" y="424.75" width="1.4" height="61.55" fill="#84202f"/><rect x="956.00" y="376.74" width="1.4" height="109.56" fill="#84202f"/><rect x="959.00" y="373.15" width="1.4" height="113.15" fill="#84202f"/><rect x="962.00" y="362.57" width="1.4" height="123.73" fill="#84202f"/><rect x="965.00" y="358.77" width="1.4" height="127.53" fill="#84202f"/><rect x="967.00" y="369.98" width="1.4" height="116.32" fill="#84202f"/><rect x="970.00" y="403.60" width="1.4" height="82.70" fill="#84202f"/><rect x="973.00" y="432.79" width="1.4" height="53.51" fill="#84202f"/><rect x="976.00" y="398.74" width="1.4" height="87.56" fill="#84202f"/><rect x="979.00" y="390.70" width="1.4" height="95.60" fill="#84202f"/><rect x="982.00" y="386.47" width="1.4" height="99.83" fill="#84202f"/><rect x="985.00" y="393.87" width="1.4" height="92.43" fill="#84202f"/><rect x="988.00" y="395.57" width="1.4" height="90.73" fill="#84202f"/><rect x="991.00" y="434.06" width="1.4" height="52.24" fill="#84202f"/><rect x="994.00" y="443.15" width="1.4" height="43.15" fill="#84202f"/><rect x="997.00" y="424.75" width="1.4" height="61.55" fill="#84202f"/><rect x="1000.00" y="407.20" width="1.4" height="79.10" fill="#84202f"/><rect x="1003.00" y="416.93" width="1.4" height="69.37" fill="#84202f"/><rect x="1006.00" y="409.74" width="1.4" height="76.56" fill="#84202f"/><rect x="1009.00" y="407.62" width="1.4" height="78.68" fill="#84202f"/><rect x="1012.00" y="435.96" width="1.4" height="50.34" fill="#84202f"/><rect x="1015.00" y="460.29" width="1.4" height="26.01" fill="#84202f"/><rect x="1018.00" y="438.29" width="1.4" height="48.01" fill="#84202f"/><rect x="1021.00" y="438.92" width="1.4" height="47.38" fill="#84202f"/><rect x="1024.00" y="429.62" width="1.4" height="56.68" fill="#84202f"/><rect x="1027.00" y="412.49" width="1.4" height="73.81" fill="#84202f"/><rect x="1030.00" y="406.78" width="1.4" height="79.52" fill="#84202f"/><rect x="1033.00" y="425.81" width="1.4" height="60.49" fill="#84202f"/><rect x="1036.00" y="454.36" width="1.4" height="31.94" fill="#84202f"/><rect x="1039.00" y="422.22" width="1.4" height="64.08" fill="#84202f"/><rect x="1042.00" y="430.25" width="1.4" height="56.05" fill="#84202f"/><rect x="1045.00" y="412.27" width="1.4" height="74.03" fill="#84202f"/><rect x="1048.00" y="435.33" width="1.4" height="50.97" fill="#84202f"/><rect x="1051.00" y="432.37" width="1.4" height="53.93" fill="#84202f"/><rect x="1053.00" y="447.38" width="1.4" height="38.92" fill="#84202f"/><rect x="1056.00" y="473.19" width="1.4" height="13.11" fill="#84202f"/><rect x="1059.00" y="446.33" width="1.4" height="39.97" fill="#84202f"/><rect x="1062.00" y="447.38" width="1.4" height="38.92" fill="#84202f"/><rect x="1065.00" y="444.00" width="1.4" height="42.30" fill="#84202f"/><rect x="1068.00" y="468.11" width="1.4" height="18.19" fill="#84202f"/><path d="M540.5,486.3 L588.9,486.2 L591.9,486.2 L595.0,486.1 L598.0,486.1 L601.0,486.0 L604.1,485.8 L607.1,485.6 L610.1,485.5 L613.2,485.5 L616.2,485.4 L619.2,485.3 L622.3,485.1 L625.3,484.8 L628.3,484.4 L631.3,484.3 L634.4,484.3 L637.4,484.1 L640.4,484.1 L643.5,483.9 L646.5,483.7 L649.5,483.4 L652.6,483.1 L655.6,482.8 L658.6,482.6 L661.7,482.6 L664.7,482.3 L667.7,481.7 L670.6,481.1 L673.6,480.5 L676.5,479.9 L679.5,479.5 L682.4,479.3 L685.4,478.8 L688.4,478.2 L691.3,477.4 L694.3,476.5 L697.2,475.6 L700.2,474.9 L703.1,474.5 L706.1,473.8 L709.0,472.9 L712.0,472.0 L715.0,471.0 L717.9,470.0 L720.9,469.4 L723.8,469.1 L726.8,468.4 L729.7,467.4 L732.7,466.3 L735.7,465.2 L738.6,464.1 L741.6,463.2 L744.5,462.8 L747.5,461.9 L750.4,460.8 L753.4,459.6 L756.3,458.3 L759.3,456.8 L762.2,455.7 L765.2,455.2 L768.1,454.5 L771.1,453.4 L774.0,452.2 L776.9,451.1 L779.9,450.0 L782.8,449.2 L785.7,448.8 L788.7,448.1 L791.6,447.0 L794.6,445.6 L797.5,444.1 L800.4,442.5 L803.4,441.2 L806.3,440.6 L809.2,439.5 L812.2,438.2 L815.1,436.8 L818.1,435.3 L821.0,433.9 L823.9,432.8 L826.9,432.1 L829.8,430.8 L832.8,429.4 L835.7,427.7 L838.6,426.0 L841.6,424.2 L844.5,422.9 L847.4,422.2 L850.4,421.0 L853.3,419.6 L856.3,418.1 L859.2,416.5 L862.1,415.0 L865.1,413.9 L868.0,413.1 L870.9,412.0 L873.9,410.8 L876.8,409.2 L879.8,407.5 L882.7,405.7 L885.7,404.4 L888.7,403.5 L891.7,402.0 L894.7,400.3 L897.8,398.4 L900.8,396.6 L903.8,394.9 L906.8,393.6 L909.8,393.1 L912.8,391.7 L915.8,390.1 L918.8,388.3 L921.9,386.4 L924.9,384.7 L927.9,383.5 L930.9,382.7 L933.9,381.4 L936.9,380.2 L939.9,378.7 L942.9,377.2 L946.0,375.6 L949.0,374.6 L952.0,373.9 L955.0,372.6 L958.0,371.3 L961.0,369.9 L963.9,368.4 L966.9,367.0 L969.9,366.1 L972.8,365.4 L975.8,364.4 L978.8,363.3 L981.7,362.2 L984.7,361.1 L987.6,360.0 L990.6,359.4 L993.6,358.9 L996.5,358.2 L999.5,357.3 L1002.5,356.5 L1005.4,355.6 L1008.4,354.7 L1011.4,354.1 L1014.3,353.8 L1017.3,353.2 L1020.3,352.7 L1023.2,352.0 L1026.2,351.2 L1029.2,350.3 L1032.1,349.5 L1035.1,349.2 L1038.1,348.4 L1041.0,347.8 L1044.0,346.9 L1046.9,346.3 L1049.9,345.7 L1052.9,345.3 L1055.8,345.1 L1058.8,344.6 L1061.8,344.2 L1064.7,343.7 L1067.7,343.5" fill="none" stroke="#7b7b7b" stroke-width="4.6" stroke-linejoin="round" stroke-linecap="round"/><circle cx="1067.7" cy="343.5" r="4.2" fill="#7b7b7b"/></svg><div class="t" style="right:773.5px;text-align:right;top:315.9px;font-size:12.7px;line-height:15px;color:#8f8f8f;">80K</div><div class="t" style="right:773.5px;text-align:right;top:351.0px;font-size:12.7px;line-height:15px;color:#8f8f8f;">60K</div><div class="t" style="right:773.5px;text-align:right;top:394.1px;font-size:12.7px;line-height:15px;color:#8f8f8f;">40K</div><div class="t" style="right:773.5px;text-align:right;top:436.5px;font-size:12.7px;line-height:15px;color:#8f8f8f;">20K</div><div class="t" style="right:773.5px;text-align:right;top:478.8px;font-size:12.7px;line-height:15px;color:#8f8f8f;">0K</div><div class="t" style="left:1104px;top:332.2px;font-size:12.7px;line-height:15px;color:#8f8f8f;">6M</div><div class="t" style="left:1104px;top:381.9px;font-size:12.7px;line-height:15px;color:#8f8f8f;">4M</div><div class="t" style="left:1104px;top:430.5px;font-size:12.7px;line-height:15px;color:#8f8f8f;">2M</div><div class="t" style="left:1104px;top:478.5px;font-size:12.7px;line-height:15px;color:#8f8f8f;">0M</div><div class="t" style="left:493.20000000000005px;width:100px;text-align:center;top:505.6px;font-size:13.1px;line-height:16px;color:#8f8f8f;">12/1/2020</div><div class="t" style="left:583.5px;width:100px;text-align:center;top:505.6px;font-size:13.1px;line-height:16px;color:#8f8f8f;">1/1/2021</div><div class="t" style="left:675.2px;width:100px;text-align:center;top:505.6px;font-size:13.1px;line-height:16px;color:#8f8f8f;">2/1/2021</div><div class="t" style="left:758.5px;width:100px;text-align:center;top:505.6px;font-size:13.1px;line-height:16px;color:#8f8f8f;">3/1/2021</div><div class="t" style="left:850.2px;width:100px;text-align:center;top:505.6px;font-size:13.1px;line-height:16px;color:#8f8f8f;">4/1/2021</div><div class="t" style="left:939.0px;width:100px;text-align:center;top:505.6px;font-size:13.1px;line-height:16px;color:#8f8f8f;">5/1/2021</div><div class="t" style="left:1017.8px;width:100px;text-align:center;top:505.6px;font-size:13.1px;line-height:16px;color:#8f8f8f;">6/1/2021</div><div class="t" style="left:1017.5px;width:100px;text-align:center;top:322.1px;font-size:12.8px;line-height:15px;color:#555;">5,845,967</div><div class="t c" style="left:352.6px;top:396.2px;width:200px;font-size:12.7px;line-height:16px;color:#333;transform:rotate(-90deg)">Number of Doses Administered</div><div class="t c" style="left:1040.6px;top:396px;width:200px;font-size:12.4px;line-height:16px;color:#333;transform:rotate(-90deg)">Cumulative Number of Doses</div><div class="t c" style="left:1057.8px;top:395.2px;width:200px;font-size:12.7px;line-height:16px;color:#333;transform:rotate(-90deg)">Administered</div>
<div class="t" style="left:432.5px;top:555.3px;font-size:15.5px;line-height:19px;color:#777;">People who have received at least one dose by</div><div class="t" style="left:432.5px;top:575.2px;font-size:15.2px;line-height:18px;color:#4e4e4e;"><b>race/ethnicity</b></div><div class="t" style="left:810.3px;top:554.8px;font-size:15.35px;line-height:18px;color:#777;">People who have received at least one dose by <b style="color:#4e4e4e">age</b></div><div class="t" style="left:810.3px;top:575.7px;font-size:15.2px;line-height:18px;color:#888;"><b style="color:#4e4e4e">and gender</b> ( <span style="color:#666;font-size:13px;vertical-align:1px">&#9632;</span> male  <span style="color:#a8303f;font-size:13px;vertical-align:1px">&#9632;</span><span style="color:#a8303f"> female)</span></div><div class="a" style="left:432.5px;top:603.8px;width:368.5px;height:1px;background:#c8c8c8"></div><div class="a" style="left:613px;top:605px;width:188px;height:32px;background:#a52431"></div><div class="a" style="left:613px;top:637px;width:188px;height:33px;background:#c99b9f"></div><div class="a" style="left:613px;top:670px;width:188px;height:28px;background:#d4a8ab"></div><div class="t" style="left:439.3px;top:613.5px;font-size:12.6px;line-height:15px;color:#454545;">White, non-Hispanic</div><div class="t" style="left:439.3px;top:647.1px;font-size:12.6px;line-height:15px;color:#454545;">Other Race</div><div class="t" style="left:439.3px;top:680.5px;font-size:12.6px;line-height:15px;color:#454545;">Hispanic or Latino</div><div class="t" style="right:481.4px;text-align:right;top:613.0px;font-size:13.4px;line-height:16px;color:#fff;"><b style="color:#fff">1,566,291</b> <span style="color:#f0d8da">(47.5%)</span></div><div class="t" style="right:481.4px;text-align:right;top:645.8px;font-size:13.4px;line-height:16px;color:#333;"><b style="color:#333">553,539</b> <span style="color:#666">(16.8%)</span></div><div class="t" style="right:481.4px;text-align:right;top:680.0px;font-size:13.4px;line-height:16px;color:#333;"><b style="color:#333">461,419</b> <span style="color:#666">(14.0%)</span></div><div class="a" style="left:809.1px;top:604.3px;width:368px;height:1px;background:#c8c8c8"></div><div class="a" style="left:929.2px;top:604.5px;width:1px;height:94px;background:#c8c8c8"></div><div class="a" style="left:1176.5px;top:604.5px;width:1px;height:94px;background:#cfcfcf"></div><div class="a" style="left:935.7px;top:605px;width:0.8px;height:93px;background:#dcdcdc"></div><div class="a" style="left:974.4px;top:605px;width:0.8px;height:93px;background:#dcdcdc"></div><div class="a" style="left:1014.3px;top:605px;width:0.8px;height:93px;background:#dcdcdc"></div><div class="a" style="left:1092.7px;top:605px;width:0.8px;height:93px;background:#dcdcdc"></div><div class="a" style="left:1131.7px;top:605px;width:0.8px;height:93px;background:#dcdcdc"></div><div class="a" style="left:1170.4px;top:605px;width:0.8px;height:93px;background:#dcdcdc"></div><div class="a" style="left:1037.2px;top:609.3px;width:16.5px;height:30.8px;background:#dfdfdf"></div><div class="a" style="left:1053.7px;top:609.3px;width:16.7px;height:30.8px;background:#e0dcdc"></div><div class="a" style="left:959.1px;top:650.5px;width:94.6px;height:30.8px;background:#686868"></div><div class="a" style="left:1053.7px;top:650.5px;width:100.9px;height:30.8px;background:#b03c48"></div><div class="a" style="left:1011.3px;top:691.3px;width:42.4px;height:8px;background:#b4b4b4"></div><div class="a" style="left:1053.7px;top:691.3px;width:46.6px;height:8px;background:#cc9da1"></div><div class="a" style="left:1053.3px;top:605px;width:1px;height:93px;background:#b8b8b8"></div><div class="t" style="right:355.9px;text-align:right;top:618.0px;font-size:12.3px;line-height:15px;color:#454545;">Less than 20 years</div><div class="t" style="right:355.9px;text-align:right;top:658.5px;font-size:12.4px;line-height:15px;color:#454545;">20-44 years</div><div class="a" style="left:1215px;top:663px;width:47.5px;height:40px;border-radius:4px;background:#4b4b4b"></div><svg class="a" style="left:1232px;top:677px" width="13" height="9"><path d="M1.5 7.5 L6.5 2.5 L11.5 7.5" fill="none" stroke="#fff" stroke-width="2.4"/></svg>
<div class="a" style="left:0;top:0;width:1280px;height:3.4px;background:#0e0e0e"></div><div class="a" style="left:0;top:3.4px;width:1280px;height:23.6px;background:#cfd3d6"></div><div class="a" style="left:324px;top:4.8px;width:159px;height:23px;background:#ebebeb;border-radius:6px 6px 0 0"></div><div class="a" style="left:0;top:27px;width:1280px;height:45px;background:#ebebeb"></div><div class="a" style="left:0;top:71px;width:1280px;height:1px;background:#dadada"></div><div class="a" style="left:73px;top:30px;width:1154px;height:18px;background:#dfe1e0;border-radius:9px"></div><svg class="a" style="left:14px;top:10.6px" width="10" height="10"><circle cx="5" cy="5" r="4.3" fill="none" stroke="#ef9a68" stroke-width="1.1" stroke-dasharray="1.1 0.7"/><circle cx="5" cy="5" r="3.2" fill="#e4662a"/></svg><div class="t" style="left:30px;top:9px;width:118px;overflow:hidden;font-size:7.9px;line-height:13px;color:#3c3c3c">Poll Editor - StoryTeller Polling Ap</div><svg class="a" style="left:151.5px;top:12px" width="7" height="7"><path d="M0.6 0.6 L6.4 6.4 M6.4 0.6 L0.6 6.4" stroke="#3a3a3a" stroke-width="1.15"/></svg><div class="a" style="left:134px;top:8px;width:14px;height:15px;background:linear-gradient(90deg,rgba(207,211,214,0),#cfd3d6)"></div><svg class="a" style="left:173px;top:10px" width="10" height="11" viewBox="0 0 10 11"><path d="M0.5 1 L9.5 1 L9.5 5 Q9.5 9 5 10.5 Q0.5 9 0.5 5 Z" fill="#3c58a0"/><path d="M3 3 L7 3 L6 7 L4 7Z" fill="#c8d4f0"/></svg><div class="t" style="left:189px;top:9px;width:118px;overflow:hidden;font-size:7.9px;line-height:13px;color:#3c3c3c">Have we flattened the curve in th</div><svg class="a" style="left:309.5px;top:12px" width="7" height="7"><path d="M0.6 0.6 L6.4 6.4 M6.4 0.6 L0.6 6.4" stroke="#3a3a3a" stroke-width="1.15"/></svg><div class="a" style="left:293px;top:8px;width:14px;height:15px;background:linear-gradient(90deg,rgba(207,211,214,0),#cfd3d6)"></div><svg class="a" style="left:332px;top:10px" width="10" height="10" viewBox="0 0 10 10"><path d="M0.5 0.5 L9.5 0.5 L9.5 9.5 L2 9.5 L0.5 8Z" fill="#c9252f"/><path d="M2 2 L8 2 L8 8 L3 8Z" fill="#e0343c"/></svg><div class="t" style="left:348px;top:9px;width:125px;overflow:hidden;font-size:7.9px;line-height:13px;color:#3c3c3c">ADHS - Vaccine Administration</div><svg class="a" style="left:469.5px;top:12px" width="7" height="7"><path d="M0.6 0.6 L6.4 6.4 M6.4 0.6 L0.6 6.4" stroke="#3a3a3a" stroke-width="1.15"/></svg><svg class="a" style="left:491px;top:10px" width="10" height="10" viewBox="0 0 10 10"><path d="M0.5 0.5 L9.5 0.5 L9.5 9.5 L2 9.5 L0.5 8Z" fill="#c9252f"/><path d="M2 2 L8 2 L8 8 L3 8Z" fill="#e0343c"/></svg><div class="t" style="left:507px;top:9px;width:125px;overflow:hidden;font-size:7.9px;line-height:13px;color:#3c3c3c">ADHS - Laboratory Testing</div><svg class="a" style="left:628.5px;top:12px" width="7" height="7"><path d="M0.6 0.6 L6.4 6.4 M6.4 0.6 L0.6 6.4" stroke="#3a3a3a" stroke-width="1.15"/></svg><svg class="a" style="left:651px;top:10px" width="10" height="10" viewBox="0 0 10 10"><path d="M0.5 0.5 L9.5 0.5 L9.5 9.5 L2 9.5 L0.5 8Z" fill="#c9252f"/><path d="M2 2 L8 2 L8 8 L3 8Z" fill="#e0343c"/></svg><div class="t" style="left:667px;top:9px;width:125px;overflow:hidden;font-size:7.9px;line-height:13px;color:#3c3c3c">ADHS - Home</div><svg class="a" style="left:788.5px;top:12px" width="7" height="7"><path d="M0.6 0.6 L6.4 6.4 M6.4 0.6 L0.6 6.4" stroke="#3a3a3a" stroke-width="1.15"/></svg><div class="a" style="left:165px;top:9px;width:1px;height:14px;background:#a9acb0"></div><div class="a" style="left:644px;top:9px;width:1px;height:14px;background:#a9acb0"></div><div class="a" style="left:803px;top:9px;width:1px;height:14px;background:#a9acb0"></div><svg class="a" style="left:812.5px;top:10.5px" width="10" height="10"><path d="M5 0.5 V9.5 M0.5 5 H9.5" stroke="#333" stroke-width="1.2"/></svg><div class="a" style="left:1169px;top:10.5px;width:10px;height:10px;border-radius:50%;background:#3a3a3a"></div><svg class="a" style="left:1171px;top:13px" width="6" height="5"><path d="M0.5 0.8 L5.5 0.8 L3 4Z" fill="#ddd"/></svg><div class="a" style="left:1199px;top:13px;width:9px;height:1.2px;background:#333"></div><svg class="a" style="left:1229px;top:9px" width="10" height="10"><rect x="0.7" y="2.5" width="6.5" height="6.5" fill="none" stroke="#333" stroke-width="1.1"/><path d="M2.5 2.5 V0.7 H9 V7 H7.2" fill="none" stroke="#333" stroke-width="1.1"/></svg><svg class="a" style="left:1259px;top:9px" width="11" height="11"><path d="M1 1 L10 10 M10 1 L1 10" stroke="#333" stroke-width="1.1"/></svg><svg class="a" style="left:8px;top:32px" width="14" height="13"><path d="M1.5 6.5 H12.5 M6.5 1.5 L1.5 6.5 L6.5 11.5" fill="none" stroke="#555" stroke-width="1.5"/></svg><svg class="a" style="left:29px;top:32px" width="14" height="13"><path d="M1.5 6.5 H12.5 M7.5 1.5 L12.5 6.5 L7.5 11.5" fill="none" stroke="#b5b5b5" stroke-width="1.5"/></svg><svg class="a" style="left:51px;top:32px" width="13" height="13"><path d="M11 6.5 A4.6 4.6 0 1 1 9.6 3.2" fill="none" stroke="#555" stroke-width="1.6"/><path d="M8 1 L12 1 L12 5Z" fill="#555"/></svg><svg class="a" style="left:80px;top:33px" width="8" height="10"><rect x="0.5" y="4" width="7" height="5.5" fill="#5a5a5a"/><path d="M2 4.5 V3 A2 2 0 0 1 6 3 V4.5" fill="none" stroke="#5a5a5a" stroke-width="1.2"/></svg><div class="t" style="left:94.5px;top:31.5px;font-size:9.4px;line-height:14px;color:#666"><span style="color:#262626">azdhs.gov</span>/covid19/data/index.php#vaccine-admin</div><svg class="a" style="left:1189px;top:32px" width="13" height="13"><circle cx="5.2" cy="5.2" r="4" fill="none" stroke="#555" stroke-width="1.3"/><path d="M8 8 L12 12" stroke="#555" stroke-width="1.6"/><path d="M3.2 5.2 H7.2 M5.2 3.2 V7.2" stroke="#555" stroke-width="1"/></svg><svg class="a" style="left:1211px;top:32px" width="13" height="13"><path d="M6.5 1 L8.1 4.8 L12.2 5.1 L9.1 7.8 L10.1 11.8 L6.5 9.6 L2.9 11.8 L3.9 7.8 L0.8 5.1 L4.9 4.8Z" fill="none" stroke="#555" stroke-width="1.1"/></svg><div class="a" style="left:1236px;top:31px;width:15px;height:15px;border-radius:50%;background:#d4d6da"></div><svg class="a" style="left:1239px;top:33px" width="10" height="10"><circle cx="5" cy="3" r="2.4" fill="#555"/><path d="M0.5 9.5 Q0.5 6 5 6 Q9.5 6 9.5 9.5Z" fill="#555"/></svg><div class="a" style="left:1264.5px;top:34.5px;width:2.2px;height:2.2px;border-radius:50%;background:#444"></div><div class="a" style="left:1264.5px;top:38px;width:2.2px;height:2.2px;border-radius:50%;background:#444"></div><div class="a" style="left:1264.5px;top:41.5px;width:2.2px;height:2.2px;border-radius:50%;background:#444"></div><div class="a" style="left:9.9px;top:55.2px;width:2.2px;height:2.2px;background:#b8434b"></div><div class="a" style="left:13.2px;top:55.2px;width:2.2px;height:2.2px;background:#b8434b"></div><div class="a" style="left:16.5px;top:55.2px;width:2.2px;height:2.2px;background:#b8434b"></div><div class="a" style="left:9.9px;top:58.5px;width:2.2px;height:2.2px;background:#3d8a5a"></div><div class="a" style="left:13.2px;top:58.5px;width:2.2px;height:2.2px;background:#4a78c0"></div><div class="a" style="left:16.5px;top:58.5px;width:2.2px;height:2.2px;background:#c9a040"></div><div class="a" style="left:9.9px;top:61.8px;width:2.2px;height:2.2px;background:#3a9050"></div><div class="a" style="left:13.2px;top:61.8px;width:2.2px;height:2.2px;background:#c9a040"></div><div class="a" style="left:16.5px;top:61.8px;width:2.2px;height:2.2px;background:#c9a040"></div><div class="t" style="left:25.8px;top:53.2px;font-size:7.7px;line-height:13px;color:#3c3c3c">Apps</div><svg class="a" style="left:54.5px;top:55.2px" width="9" height="9" viewBox="0 0 9 9"><path d="M7.6 2.2 A3.6 3.6 0 0 0 1.2 3.2" fill="none" stroke="#e94235" stroke-width="1.3"/><path d="M1.2 3.2 A3.6 3.6 0 0 0 1.3 6" fill="none" stroke="#fbbc04" stroke-width="1.3"/><path d="M1.3 6 A3.6 3.6 0 0 0 7.2 7" fill="none" stroke="#34a853" stroke-width="1.3"/><path d="M7.2 7 A3.6 3.6 0 0 0 8.1 4.5 H4.6" fill="none" stroke="#4285f4" stroke-width="1.3"/></svg><div class="t" style="left:70px;top:53.2px;font-size:7.7px;line-height:13px;color:#3c3c3c">Gmail</div><div class="a" style="left:101.3px;top:56.0px;width:10px;height:7.5px;border-radius:2px;background:#c8101c"></div><svg class="a" style="left:104.8px;top:57.7px" width="4" height="4"><path d="M0 0 L3.5 2 L0 4Z" fill="#fff"/></svg><div class="t" style="left:117.5px;top:53.2px;font-size:7.7px;line-height:13px;color:#3c3c3c">YouTube</div><svg class="a" style="left:159.8px;top:53.7px" width="8" height="12"><path d="M4 11.5 L0.8 5.5 A3.6 3.6 0 1 1 7.2 5.5Z" fill="#34a853"/><path d="M0.8 5.5 A3.6 3.6 0 0 1 4 0.4 L4 4Z" fill="#4285f4"/><path d="M4 0.4 A3.6 3.6 0 0 1 7.2 5.5 L4 4Z" fill="#ea4335"/><circle cx="4" cy="4" r="1.3" fill="#fbbc04"/></svg><div class="t" style="left:174.7px;top:53.2px;font-size:7.7px;line-height:13px;color:#3c3c3c">Maps</div><svg class="a" style="left:205.8px;top:54.7px" width="10" height="10"><circle cx="5" cy="5" r="4.3" fill="none" stroke="#ef9a68" stroke-width="1.1" stroke-dasharray="1.1 0.7"/><circle cx="5" cy="5" r="3.2" fill="#e4662a"/></svg><div class="t" style="left:221.7px;top:53.2px;font-size:7.7px;line-height:13px;color:#3c3c3c">Log in - StoryTeller...</div><svg class="a" style="left:304.3px;top:54.7px" width="10" height="10"><circle cx="5" cy="5" r="4.4" fill="#dcdcdc" stroke="#b5b5b5" stroke-width="1"/><path d="M2.8 4.5 H7.2 L6.5 7 H3.5Z" fill="#8a8a8a"/><circle cx="5" cy="3.3" r="1.1" fill="#9a9a9a"/></svg><div class="t" style="left:320.6px;top:53.2px;font-size:7.7px;line-height:13px;color:#3c3c3c">Last McDonalds – S...</div><svg class="a" style="left:406.6px;top:53.7px" width="8" height="12"><path d="M2 2 L6 1 L7 6 L6 11 L2 11 L1 6Z" fill="#9c1b1b"/><circle cx="4" cy="3.5" r="1.4" fill="#f0d0b0"/></svg><div class="t" style="left:421.5px;top:53.2px;font-size:7.7px;line-height:13px;color:#3c3c3c">Official NORAD San...</div><div class="a" style="left:509.1px;top:56.1px;width:7.2px;height:7.2px;transform:rotate(45deg);background:#c8502a"></div><div class="t" style="left:523px;top:53.2px;font-size:7.7px;line-height:13px;color:#3c3c3c">JuxtaposeJS</div><svg class="a" style="left:575.5px;top:54.7px" width="11" height="10"><path d="M0.5 8 Q4 9.5 7 7.5 Q10 5 9.8 2 L10.8 1 L9.5 1.2 L10 0.2 Q9 0.8 8.5 0.8 Q6 -0.5 5.3 2.6 Q3 2.6 1 0.5 Q0.5 2.5 2 3.8 L1 3.6 Q1.3 5.3 2.8 5.8 L1.8 5.9 Q2.4 7 3.8 7.2 Q2.4 8.2 0.5 8Z" fill="#1d9bf0"/></svg><div class="a" style="left:575px;top:53.7px;width:3px;height:3px;border-radius:50%;background:#e02020"></div><div class="t" style="left:592px;top:53.2px;font-size:7.3px;line-height:13px;color:#3c3c3c">AZDHS TWITTER</div><div class="a" style="left:1206px;top:53px;width:1px;height:14px;background:#c8c8c8"></div><svg class="a" style="left:1213px;top:54px" width="11" height="11"><rect x="0.6" y="0.6" width="9.8" height="9.8" fill="none" stroke="#666" stroke-width="1.1"/><path d="M3.5 2.5 V8.5 M7.5 2.5 V8.5" stroke="#666" stroke-width="1"/></svg><div class="t" style="left:1229.7px;top:53.2px;font-size:7.7px;line-height:13px;color:#3c3c3c">Reading list</div>
<div class="a" style="left:0;top:697px;width:1280px;height:23px;background:linear-gradient(90deg,#404043 0%,#424245 60%,#3f4043 84.9%,#2b2d45 85%,#2a2c44 100%)"></div><svg class="a" style="left:10.5px;top:705.5px" width="11" height="11"><path d="M0 0.8 L4.8 0.2 V5 H0Z M5.6 0.1 L11 -0.5 V5 H5.6Z M0 5.8 H4.8 V10.6 L0 10Z M5.6 5.8 H11 V11.4 L5.6 10.7Z" fill="#f2f2f2"/></svg><div class="a" style="left:32px;top:697px;width:229px;height:23px;background:#e3e3e3;border-top:1px solid #cfcfcf"></div><svg class="a" style="left:39px;top:704px" width="12" height="12"><circle cx="7.3" cy="4.7" r="3.7" fill="none" stroke="#333" stroke-width="1.1"/><path d="M4.6 7.4 L1 11" stroke="#333" stroke-width="1.3"/></svg><div class="t" style="left:58.7px;top:704.5px;font-size:9.3px;line-height:13px;color:#333">Search</div><div class="a" style="left:271.9px;top:704.6px;width:10.6px;height:10.6px;border-radius:50%;border:1.7px solid #eee"></div><svg class="a" style="left:302px;top:704.5px" width="13" height="11"><rect x="1.5" y="2.5" width="8" height="6" fill="none" stroke="#eee" stroke-width="1.2"/><path d="M0 1 H11 M0 10 H11 M11.5 2 V9" stroke="#eee" stroke-width="1.1"/></svg><div class="a" style="left:1057.6px;top:697px;width:30.4px;height:23px;background:#68696e"></div><div class="a" style="left:334.9px;top:704.5px;width:14px;height:11px;background:#f4c64a;border-radius:1px"></div><div class="a" style="left:334.9px;top:708.5px;width:14px;height:7px;background:#e9b53a"></div><div class="a" style="left:338.9px;top:710.5px;width:7px;height:3px;background:#3b8ad8"></div><div class="a" style="left:367.7px;top:703.5px;width:14px;height:12px;background:#6fbf4a"></div><div class="a" style="left:369.7px;top:706.5px;width:10px;height:6px;background:#e8f4d8;border-radius:2px"></div><div class="a" style="left:399.9px;top:702.5px;width:14px;height:14px;background:#2a8fd8;border:1px solid #9fd0f5"></div><div class="t" style="left:402.4px;top:702.0px;font-size:12px;line-height:15px;font-weight:bold;color:#fff">D</div><svg class="a" style="left:432.75px;top:702.5px" width="13" height="14"><path d="M1 0.5 L12.5 7 L1 13.5Z" fill="#3cb043"/></svg><div class="t" style="left:463px;top:702.5px;font-size:11px;line-height:14px;font-weight:bold;color:#a0407a">3D</div><div class="a" style="left:495.2px;top:702.5px;width:14px;height:14px;border-radius:50%;background:radial-gradient(circle at 40% 35%,#f6b060,#d8661a 70%)"></div><div class="a" style="left:529.4px;top:704.5px;width:9px;height:9px;border:1.2px solid #ddd"></div><svg class="a" style="left:531.4px;top:703.5px" width="9" height="8"><path d="M1 4 L3 6.5 L8 0.5" fill="none" stroke="#eee" stroke-width="1.3"/></svg><div class="a" style="left:559.9px;top:702.5px;width:14px;height:14px;background:#1f86c8"></div><div class="a" style="left:561.4px;top:709.5px;width:2px;height:6px;background:#bfe6ff"></div><div class="a" style="left:564.4px;top:706.5px;width:2px;height:9px;background:#bfe6ff"></div><div class="a" style="left:567.4px;top:710.5px;width:2px;height:5px;background:#bfe6ff"></div><div class="a" style="left:570.4px;top:704.5px;width:2px;height:11px;background:#bfe6ff"></div><div class="a" style="left:591.4px;top:702.5px;width:14px;height:14px;background:#c8202c"></div><svg class="a" style="left:593.4px;top:704.5px" width="11" height="10"><path d="M1 5 L4 8.5 L10 1" fill="none" stroke="#fff" stroke-width="1.8"/></svg><div class="a" style="left:623.3px;top:702.5px;width:14px;height:14px;background:#3a7fd8;border:1px solid #a8ccf5"></div><div class="t" style="left:624.8px;top:702.0px;font-size:12px;line-height:15px;font-weight:bold;color:#fff">M</div><div class="a" style="left:655.5px;top:702.5px;width:14px;height:14px;background:#9a3cc8;border:1px solid #d0a0f0"></div><div class="a" style="left:658.5px;top:705.5px;width:8px;height:8px;border-radius:50%;border:1.2px solid #fff"></div><svg class="a" style="left:686.75px;top:701.5px" width="14" height="16"><path d="M2 14 L4 9 L11 1.5 L13 3.5 L6 11Z" fill="#5a6fb8"/><path d="M2 14 L4 9 L6 11Z" fill="#ddd"/></svg><svg class="a" style="left:718.9px;top:701.5px" width="16" height="16"><path d="M8 0.5 L14.5 4.2 L14.5 11.8 L8 15.5 L1.5 11.8 L1.5 4.2Z" fill="#e0582a"/><path d="M7 4 V9 M7 4 Q8 3 9 4 V8 M9 7 H11 V10 Q11 12.5 8 12.5 Q5.5 12.5 5 10 L4.5 8" fill="none" stroke="#fff" stroke-width="1.1"/></svg><svg class="a" style="left:750.1px;top:701.5px" width="16" height="16"><path d="M8 0.5 L14.5 4.2 L14.5 11.8 L8 15.5 L1.5 11.8 L1.5 4.2Z" fill="#e0582a"/><path d="M7 4 V9 M7 4 Q8 3 9 4 V8 M9 7 H11 V10 Q11 12.5 8 12.5 Q5.5 12.5 5 10 L4.5 8" fill="none" stroke="#fff" stroke-width="1.1"/></svg><svg class="a" style="left:782px;top:701.5px" width="16" height="16"><path d="M8 0.5 L14.5 4.2 L14.5 11.8 L8 15.5 L1.5 11.8 L1.5 4.2Z" fill="#e0582a"/><path d="M7 4 V9 M7 4 Q8 3 9 4 V8 M9 7 H11 V10 Q11 12.5 8 12.5 Q5.5 12.5 5 10 L4.5 8" fill="none" stroke="#fff" stroke-width="1.1"/></svg><svg class="a" style="left:813.25px;top:701.5px" width="16" height="16"><path d="M8 0.5 L14.5 4.2 L14.5 11.8 L8 15.5 L1.5 11.8 L1.5 4.2Z" fill="#e0582a"/><path d="M7 4 V9 M7 4 Q8 3 9 4 V8 M9 7 H11 V10 Q11 12.5 8 12.5 Q5.5 12.5 5 10 L4.5 8" fill="none" stroke="#fff" stroke-width="1.1"/></svg><svg class="a" style="left:845.1px;top:701.5px" width="16" height="16"><path d="M8 0.5 L14.5 4.2 L14.5 11.8 L8 15.5 L1.5 11.8 L1.5 4.2Z" fill="#e0582a"/><path d="M7 4 V9 M7 4 Q8 3 9 4 V8 M9 7 H11 V10 Q11 12.5 8 12.5 Q5.5 12.5 5 10 L4.5 8" fill="none" stroke="#fff" stroke-width="1.1"/></svg><svg class="a" style="left:876.4px;top:701.5px" width="16" height="16"><path d="M8 0.5 L14.5 4.2 L14.5 11.8 L8 15.5 L1.5 11.8 L1.5 4.2Z" fill="#e0582a"/><path d="M7 4 V9 M7 4 Q8 3 9 4 V8 M9 7 H11 V10 Q11 12.5 8 12.5 Q5.5 12.5 5 10 L4.5 8" fill="none" stroke="#fff" stroke-width="1.1"/></svg><div class="a" style="left:908.6px;top:702.5px;width:14px;height:14px;background:#4a90d0"></div><div class="a" style="left:911.6px;top:705.5px;width:4px;height:4px;border-radius:50%;background:#e0f0ff"></div><div class="a" style="left:916.6px;top:706.5px;width:4px;height:4px;border-radius:50%;background:#e0f0ff"></div><div class="a" style="left:909.6px;top:710.5px;width:11px;height:5px;border-radius:3px 3px 0 0;background:#e0f0ff"></div><div class="t" style="left:939.9px;top:698.5px;font-size:19px;line-height:20px;font-style:italic;color:#2a8fe0">e</div><div class="a" style="left:938.9px;top:706.5px;width:16px;height:4px;border-radius:50%;border-top:1.5px solid #f2c318;transform:rotate(-25deg)"></div><div class="a" style="left:971px;top:702.5px;width:14px;height:14px;background:#b8202c;border:1px solid #e08088"></div><div class="a" style="left:974px;top:705.5px;width:8px;height:8px;border-radius:50%;background:#fff"></div><div class="a" style="left:977.2px;top:706.5px;width:1.6px;height:6px;background:#c02030"></div><div class="a" style="left:975px;top:708.7px;width:6px;height:1.6px;background:#c02030"></div><div class="a" style="left:1002.4px;top:702.5px;width:14px;height:14px;background:#1f7fc8"></div><div class="a" style="left:1004.4px;top:704.5px;width:10px;height:1.4px;background:#cfe8ff"></div><div class="a" style="left:1004.4px;top:707.5px;width:10px;height:1.4px;background:#cfe8ff"></div><div class="a" style="left:1004.4px;top:710.5px;width:10px;height:1.4px;background:#cfe8ff"></div><div class="a" style="left:1004.4px;top:713.5px;width:10px;height:1.4px;background:#cfe8ff"></div><div class="a" style="left:1032.3px;top:701.5px;width:16px;height:16px;border-radius:50%;background:conic-gradient(from 200deg,#2fc06a,#1a9ad8,#0b5fb0,#1a9ad8,#2fc06a)"></div><div class="a" style="left:1037.3px;top:708.5px;width:7px;height:5px;border-radius:50%;background:#0d4f98"></div><div class="a" style="left:1064.9px;top:702.0px;width:15px;height:15px;border-radius:50%;background:conic-gradient(from -30deg,#db4437 0 120deg,#f4c20d 120deg 240deg,#0f9d58 240deg 360deg)"></div><div class="a" style="left:1068.6000000000001px;top:705.7px;width:7.6px;height:7.6px;border-radius:50%;background:#4285f4;border:1.3px solid #fff"></div><svg class="a" style="left:1096px;top:706px" width="10" height="7"><path d="M1 6 L5 1.5 L9 6" fill="none" stroke="#eee" stroke-width="1.1"/></svg><svg class="a" style="left:1115px;top:703px" width="12" height="14"><rect x="2" y="2" width="8" height="10" rx="2" fill="none" stroke="#eee" stroke-width="1.1"/><path d="M0.5 7 H4 M8 7 H11.5" stroke="#eee" stroke-width="1"/></svg><svg class="a" style="left:1136px;top:704px" width="15" height="12"><rect x="3" y="1" width="11" height="8" fill="none" stroke="#eee" stroke-width="1.1"/><path d="M1 3 V10 M1 10 H6 M8 9 V11" stroke="#eee" stroke-width="1.1"/></svg><svg class="a" style="left:1158px;top:704px" width="14" height="12"><path d="M1 4 H3.5 L7 1 V11 L3.5 8 H1Z" fill="none" stroke="#eee" stroke-width="1"/><path d="M9 3.5 Q10.5 6 9 8.5 M11 2 Q13.5 6 11 10" fill="none" stroke="#eee" stroke-width="1"/></svg><svg class="a" style="left:1182px;top:703px" width="14" height="14"><path d="M2 12 L5 9 M4 7 Q1 10 4 12 Q6 13 8 10 M6 9 L10 5 Q12 3 10 1.5 Q8 0.5 6.5 3 L5.5 5 M8 8 Q11 8 11 10" fill="none" stroke="#eee" stroke-width="1.2"/></svg><div class="t c" style="left:1193px;top:697.8px;width:60px;font-size:8px;line-height:11px;color:#f0f0f0">9:09 AM</div><div class="t c" style="left:1193px;top:709.5px;width:60px;font-size:7.7px;line-height:11px;color:#f0f0f0">5/28/2021</div><svg class="a" style="left:1251px;top:703px" width="14" height="14"><path d="M1 1 H13 V10 H8 L6.5 12.5 L5 10 H1Z" fill="none" stroke="#eee" stroke-width="1.1"/></svg>
<div class="a" style="left:59px;top:614.6px;width:152px;height:84.9px;background:#efefef;border-bottom:1px solid #c8c8c8"></div><div class="a" style="left:59px;top:614.6px;width:147.7px;height:60.6px;background:#0e1c57"></div><div class="t" style="left:77px;top:611px;font-size:40.7px;line-height:46px;font-weight:bold;color:#efe24f;transform:scaleX(1.12) skewX(-9deg);transform-origin:0 100%;letter-spacing:-1.5px;-webkit-text-stroke:1.6px #efe24f">AZ</div><div class="t" style="left:114px;top:633.5px;font-size:40.3px;line-height:46px;font-weight:bold;color:#eee04c;transform:scaleX(1.1) skewX(-9deg);transform-origin:0 100%;letter-spacing:-1.5px;-webkit-text-stroke:1.6px #eee04c">AM</div><div class="t" style="left:140.4px;top:620.5px;font-size:19px;line-height:22px;font-weight:bold;color:#cbeeff;transform:scaleX(0.8);transform-origin:0 0;-webkit-text-stroke:0.7px #cbeeff">FOX10</div><div class="t" style="left:85.5px;top:676.5px;font-size:19.3px;line-height:24px;font-weight:bold;color:#1b2148;letter-spacing:2.2px;-webkit-text-stroke:0.5px #1b2148">9:09</div><div class="t" style="left:155.5px;top:676.5px;font-size:19.3px;line-height:24px;font-weight:bold;color:#1b2148;letter-spacing:1.5px;-webkit-text-stroke:0.5px #1b2148">79&#176;</div>
</body></html>
